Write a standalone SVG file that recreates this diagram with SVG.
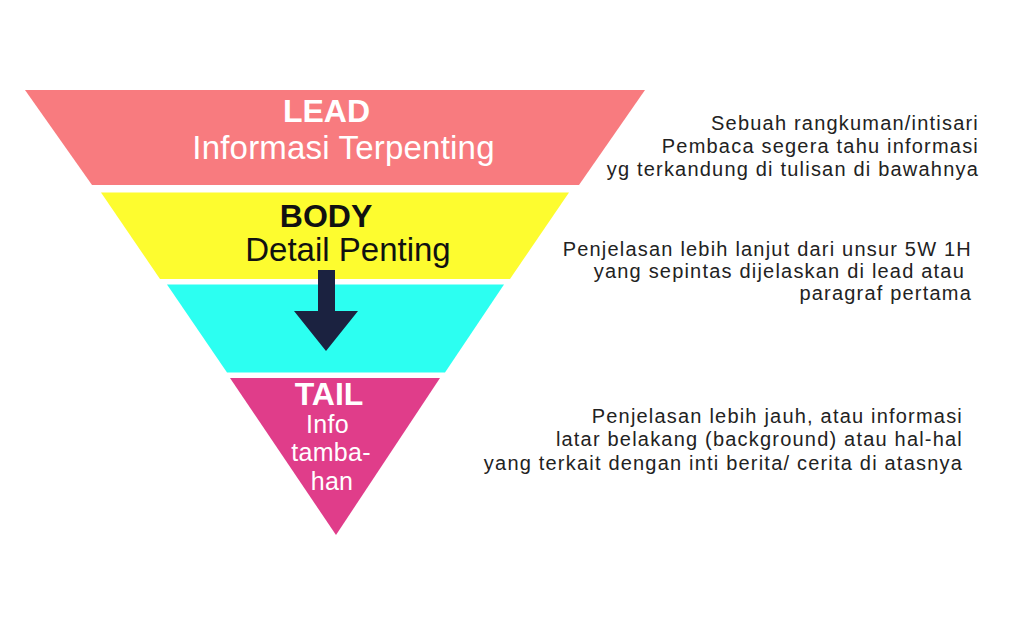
<svg xmlns="http://www.w3.org/2000/svg" width="1024" height="624" viewBox="0 0 1024 624">
  <style>
    .title { font-family: "Liberation Sans", Arial, sans-serif; font-weight: bold; font-size: 32px; text-anchor: middle; }
    .sub { font-family: "Liberation Sans", Arial, sans-serif; font-size: 33px; text-anchor: middle; }
    .tail { font-family: "Liberation Sans", Arial, sans-serif; font-size: 25px; letter-spacing: 0.3px; text-anchor: middle; fill: #ffffff; }
    .note { font-family: "Liberation Sans", Arial, sans-serif; font-size: 20px; letter-spacing: 1.2px; text-anchor: end; fill: #222222; }
    .white { fill: #ffffff; }
    .dark { fill: #111111; }
  </style>
  <rect width="1024" height="624" fill="#ffffff"/>

  <g id="lead">
    <polygon points="25,90 645,90 579,185 92,185" fill="#f87b7f"/>
    <text class="title white" x="326.5" y="122">LEAD</text>
    <text class="sub white" x="343.5" y="159" letter-spacing="0.2">Informasi Terpenting</text>
  </g>

  <g id="body">
    <polygon points="101,192.5 569,192.5 510,279 160,279" fill="#fdfc2f"/>
    <text class="title dark" x="326" y="227">BODY</text>
    <text class="sub dark" x="348" y="261">Detail Penting</text>
  </g>

  <g id="body-detail">
    <polygon points="167,284.5 504,284.5 445,372.5 227,372.5" fill="#2cfff1"/>
  </g>

  <g id="tail">
    <polygon points="230,378 440,378 336,535" fill="#e03d8a"/>
    <text class="title white" x="329" y="405" font-size="30">TAIL</text>
    <text class="tail" x="327.5" y="433">Info</text>
    <text class="tail" x="331" y="461">tamba-</text>
    <text class="tail" x="332" y="490">han</text>
  </g>

  <g id="connectors">
    <path d="M318,270 H335 V311 H358 L326,351 L294,311 H318 Z" fill="#1b2240"/>
  </g>

  <g id="note-lead">
    <text class="note" x="979" y="130">Sebuah rangkuman/intisari</text>
    <text class="note" x="979" y="153">Pembaca segera tahu informasi</text>
    <text class="note" x="979" y="176">yg terkandung di tulisan di bawahnya</text>
  </g>

  <g id="note-body">
    <text class="note" x="972" y="255.5">Penjelasan lebih lanjut dari unsur 5W 1H</text>
    <text class="note" x="965" y="277.5">yang sepintas dijelaskan di lead atau</text>
    <text class="note" x="972" y="299.5">paragraf pertama</text>
  </g>

  <g id="note-tail">
    <text class="note" x="963" y="423">Penjelasan lebih jauh, atau informasi</text>
    <text class="note" x="963" y="446">latar belakang (background) atau hal-hal</text>
    <text class="note" x="963" y="470">yang terkait dengan inti berita/ cerita di atasnya</text>
  </g>
</svg>
